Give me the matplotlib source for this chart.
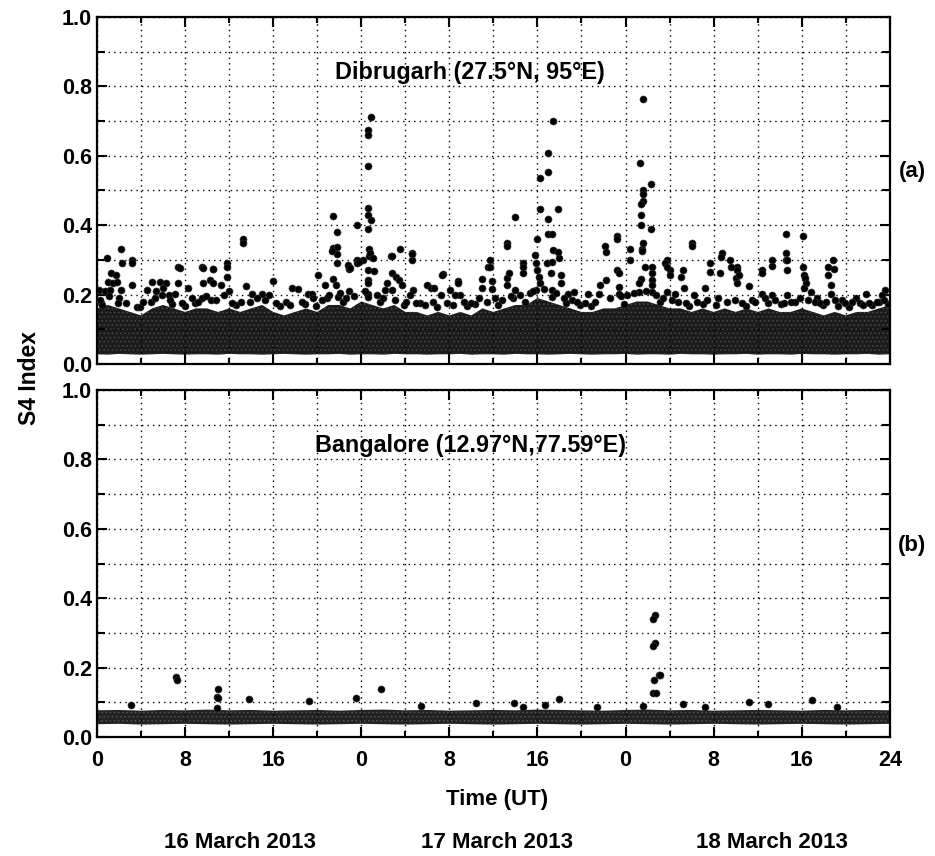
import matplotlib
matplotlib.use("Agg")
import matplotlib.pyplot as plt
from matplotlib.ticker import MultipleLocator, FixedLocator

plt.rcParams["font.family"] = ["Liberation Sans", "DejaVu Sans"]
plt.rcParams["font.weight"] = "bold"
plt.rcParams["hatch.linewidth"] = 0.6

# time axis in hours since 00 UT on 16 March 2013
XTICKS = [0, 8, 16, 24, 32, 40, 48, 56, 64, 72]
XTICK_LABELS = ["0", "8", "16", "0", "8", "16", "0", "8", "16", "24"]
DAYS = ["16 March 2013", "17 March 2013", "18 March 2013"]

# dense background cloud of Dibrugarh, hourly lower / upper edge
BAND_A_HOURS = [0, 1, 2, 3, 4, 5, 6, 7, 8, 9, 10, 11, 12, 13, 14, 15, 16, 17, 18, 19, 20,
                21, 22, 23, 24, 25, 26, 27, 28, 29, 30, 31, 32, 33, 34, 35, 36, 37, 38, 39,
                40, 41, 42, 43, 44, 45, 46, 47, 48, 49, 50, 51, 52, 53, 54, 55, 56, 57, 58,
                59, 60, 61, 62, 63, 64, 65, 66, 67, 68, 69, 70, 71, 72]
band_a_low = [0.028, 0.027, 0.029, 0.028, 0.027, 0.028, 0.029, 0.028, 0.027, 0.028,
              0.028, 0.027, 0.029, 0.028, 0.028, 0.027, 0.028, 0.029, 0.028, 0.027,
              0.028, 0.028, 0.029, 0.027, 0.028, 0.028, 0.027, 0.029, 0.028, 0.028,
              0.027, 0.028, 0.028, 0.029, 0.027, 0.028, 0.028, 0.027, 0.029, 0.028,
              0.028, 0.027, 0.028, 0.029, 0.028, 0.027, 0.028, 0.028, 0.029, 0.027,
              0.028, 0.028, 0.027, 0.029, 0.028, 0.028, 0.027, 0.028, 0.028, 0.029,
              0.027, 0.028, 0.028, 0.027, 0.029, 0.028, 0.028, 0.027, 0.028, 0.028,
              0.029, 0.027, 0.028]
band_a_high = [0.16, 0.17, 0.16, 0.15, 0.14, 0.16, 0.17, 0.16, 0.15, 0.16, 0.16, 0.15,
               0.16, 0.15, 0.16, 0.17, 0.15, 0.14, 0.15, 0.16, 0.15, 0.17, 0.17, 0.16,
               0.18, 0.17, 0.16, 0.17, 0.15, 0.15, 0.14, 0.15, 0.14, 0.15, 0.14, 0.16,
               0.15, 0.16, 0.17, 0.17, 0.19, 0.18, 0.17, 0.16, 0.15, 0.15, 0.16, 0.16,
               0.17, 0.18, 0.18, 0.17, 0.16, 0.16, 0.15, 0.16, 0.15, 0.16, 0.15, 0.16,
               0.15, 0.16, 0.15, 0.15, 0.16, 0.15, 0.14, 0.15, 0.14, 0.15, 0.15, 0.16, 0.17]

# flat background cloud of Bangalore, every 2 h
BAND_B_HOURS = [0, 2, 4, 6, 8, 10, 12, 14, 16, 18, 20, 22, 24, 26, 28, 30, 32, 34, 36,
                38, 40, 42, 44, 46, 48, 50, 52, 54, 56, 58, 60, 62, 64, 66, 68, 70, 72]
band_b_low = [0.037, 0.038, 0.036, 0.037, 0.038, 0.037, 0.036, 0.037, 0.038, 0.037,
              0.036, 0.037, 0.038, 0.037, 0.036, 0.037, 0.038, 0.037, 0.036, 0.037,
              0.038, 0.037, 0.036, 0.037, 0.038, 0.037, 0.036, 0.037, 0.038, 0.037,
              0.036, 0.037, 0.038, 0.037, 0.036, 0.037, 0.038]
band_b_high = [0.077, 0.078, 0.076, 0.078, 0.077, 0.079, 0.077, 0.078, 0.076, 0.077,
               0.078, 0.076, 0.078, 0.079, 0.077, 0.078, 0.076, 0.077, 0.078, 0.077,
               0.079, 0.078, 0.077, 0.076, 0.078, 0.079, 0.077, 0.078, 0.076, 0.077,
               0.078, 0.077, 0.076, 0.078, 0.077, 0.078, 0.077]

# Dibrugarh: individual points standing above the dense cloud
dib_hours = [24.9, 24.6, 24.6, 24.6, 24.6, 24.6, 24.9, 24.6, 21.4, 21.8, 23.6, 13.3, 13.3,
             2.2, 0.9, 2.3, 3.2, 3.2, 7.4, 9.5, 10.5, 11.8, 11.8, 21.4, 21.8, 21.8, 21.8,
             22.9, 22.9, 23.6, 23.6, 24.7, 24.7, 24.2, 27.5, 28.6, 28.6, 26.7, 31.4, 35.5,
             49.6, 41.4, 41.0, 41.0, 40.2, 40.2, 41.9, 41.0, 38.0, 49.3, 50.3, 49.6, 49.6,
             49.6, 49.4, 49.4, 49.4, 50.3, 47.2, 47.2, 54.0, 54.0, 62.6, 64.1, 37.2, 37.2,
             40.0, 41.0, 41.3, 48.4, 49.5, 49.6, 56.8, 57.5, 35.7, 62.6, 62.6, 61.3, 60.4,
             66.8, 66.4, 64.1, 51.8, 52.0, 53.2, 55.7, 58.1, 58.1, 46.1, 38.7, 38.7,
             # mid level points
             1.3, 1.7, 1.0, 1.5, 1.8, 0.2, 0.7, 1.2, 2.2, 3.2, 0.4, 2.0, 4.5, 5.0, 5.7,
             6.3, 5.4, 6.0, 6.5, 7.1, 7.4, 7.5, 8.3, 9.6, 10.5, 9.6, 10.3, 10.5, 11.3,
             11.8, 12.0, 9.5, 10.4, 13.5, 14.1, 15.0, 15.6, 16.0, 17.7, 18.3, 19.2, 19.5,
             20.1, 20.7, 21.4, 21.7, 21.3, 22.8, 23.0, 23.8, 20.9, 21.9, 22.9,
             24.8, 25.1, 24.6, 25.2, 24.6, 24.6, 24.6, 24.6, 26.8, 26.8, 27.2, 27.4, 26.3,
             26.2, 26.8, 27.7, 28.6, 28.7, 28.4, 30.0, 30.3, 30.6, 31.3, 31.2, 32.1, 32.8,
             32.8, 33.0, 32.5, 35.0, 35.0, 35.9, 35.9, 35.7, 37.2, 37.2, 37.4, 38.0, 37.8,
             38.7, 39.8, 39.9, 40.0, 40.1, 40.2, 39.9, 40.9, 41.3, 41.2, 42.1, 42.1, 41.4,
             41.9, 42.0, 41.3, 41.3, 42.8, 43.3, 46.2, 45.7, 46.2, 47.2, 47.4, 47.4, 47.4,
             44.6, 45.6,
             48.4, 49.5, 49.8, 50.4, 50.4, 50.4, 50.4, 50.4, 49.4, 49.2, 49.2, 51.6, 51.8,
             52.0, 53.0, 53.3, 51.8, 52.5, 54.2, 55.2, 55.7, 56.6, 56.7, 57.6, 58.0, 58.3,
             58.1, 59.2, 60.4, 61.3, 62.7, 62.7, 60.4, 61.3, 62.7, 59.5, 64.2, 64.3, 64.4,
             64.2, 64.8, 65.4, 66.4, 66.9, 66.7, 66.7, 67.7, 69.8, 68.9, 71.6, 71.3,
             # points along the top of the cloud
             0.5, 1.9, 3.6, 4.9, 6.8, 8.0, 8.9, 12.6, 13.9, 16.6, 17.2, 18.9, 19.9,
             22.3, 25.7, 27.9, 29.3, 30.9, 33.6, 34.3, 36.4, 38.9, 42.6, 43.9, 44.9,
             47.9, 51.1, 53.8, 55.0, 56.2, 58.9, 60.9, 62.1, 63.4, 65.9, 67.3, 68.3,
             69.3, 70.4, 71.0, 71.8,
             0.3, 1.1, 2.6, 3.9, 4.2, 5.3, 5.9, 6.6, 7.7, 8.6,
             9.2, 9.9, 10.8, 11.5, 12.3, 13.1, 14.5, 15.3, 16.3, 17.5,
             18.6, 19.6, 20.4, 21.1, 22.1, 22.6, 23.3, 24.3, 25.4, 26.0,
             27.1, 28.1, 29.0, 29.8, 30.5, 31.8, 32.3, 33.3, 34.0, 34.7,
             35.4, 36.1, 36.8, 37.6, 38.4, 39.3, 39.6, 40.6, 41.7, 42.4,
             43.1, 43.6, 44.3, 45.2, 46.6, 47.6, 48.1, 48.8, 49.9, 50.8,
             51.4, 52.2, 52.8, 53.5, 54.5, 55.4, 56.4, 57.2, 57.9, 58.6,
             59.8, 60.7, 61.6, 62.4, 63.0, 63.8, 64.6, 65.2, 65.7, 66.2,
             67.0, 67.9, 68.6, 69.6, 70.1, 70.8, 71.5]
dib_s4 = [0.712, 0.674, 0.66, 0.57, 0.45, 0.43, 0.415, 0.39, 0.426, 0.38, 0.40, 0.36, 0.35,
          0.33, 0.305, 0.29, 0.30, 0.29, 0.28, 0.28, 0.275, 0.29, 0.28, 0.334, 0.337, 0.316,
          0.29, 0.28, 0.275, 0.30, 0.29, 0.33, 0.31, 0.30, 0.33, 0.32, 0.30, 0.31, 0.26, 0.28,
          0.764, 0.70, 0.608, 0.553, 0.537, 0.446, 0.446, 0.418, 0.424, 0.58, 0.52, 0.50, 0.49,
          0.47, 0.46, 0.43, 0.40, 0.39, 0.37, 0.36, 0.348, 0.34, 0.375, 0.37, 0.35, 0.34,
          0.36, 0.375, 0.375, 0.33, 0.33, 0.35, 0.32, 0.30, 0.30, 0.32, 0.30, 0.30, 0.27,
          0.30, 0.28, 0.28, 0.30, 0.27, 0.27, 0.29, 0.28, 0.27, 0.34, 0.29, 0.28,
          0.261, 0.256, 0.237, 0.232, 0.237, 0.213, 0.209, 0.213, 0.213, 0.228, 0.175, 0.19,
          0.213, 0.237, 0.237, 0.232, 0.209, 0.218, 0.199, 0.203, 0.232, 0.276, 0.218, 0.276,
          0.273, 0.234, 0.242, 0.232, 0.228, 0.251, 0.209, 0.19, 0.184, 0.225, 0.203, 0.203,
          0.199, 0.24, 0.22, 0.215, 0.203, 0.203, 0.256, 0.229, 0.244, 0.229, 0.326, 0.285,
          0.276, 0.295, 0.19, 0.194, 0.209,
          0.319, 0.305, 0.271, 0.269, 0.242, 0.232, 0.203, 0.194, 0.31, 0.261, 0.251, 0.242,
          0.232, 0.213, 0.213, 0.228, 0.316, 0.213, 0.199, 0.229, 0.218, 0.218, 0.256, 0.199,
          0.213, 0.24, 0.232, 0.199, 0.199, 0.244, 0.218, 0.24, 0.215, 0.28, 0.247, 0.228,
          0.261, 0.213, 0.19, 0.261, 0.314, 0.29, 0.271, 0.251, 0.232, 0.213, 0.29, 0.295,
          0.261, 0.256, 0.232, 0.327, 0.324, 0.304, 0.213, 0.194, 0.203, 0.208, 0.324, 0.228,
          0.242, 0.271, 0.261, 0.223, 0.203, 0.203, 0.203,
          0.30, 0.326, 0.28, 0.28, 0.261, 0.242, 0.228, 0.208, 0.244, 0.232, 0.208, 0.29,
          0.28, 0.256, 0.251, 0.22, 0.208, 0.203, 0.199, 0.218, 0.266, 0.261, 0.307, 0.28,
          0.247, 0.256, 0.232, 0.225, 0.261, 0.282, 0.30, 0.271, 0.203, 0.199, 0.199, 0.184,
          0.256, 0.247, 0.232, 0.218, 0.208, 0.19, 0.256, 0.275, 0.228, 0.203, 0.184, 0.203,
          0.19, 0.213, 0.199,
          0.17, 0.175, 0.165, 0.18, 0.172, 0.168, 0.176, 0.17, 0.178, 0.166, 0.18, 0.172,
          0.168, 0.178, 0.18, 0.17, 0.176, 0.165, 0.168, 0.174, 0.17, 0.18, 0.176, 0.17,
          0.168, 0.172, 0.178, 0.166, 0.174, 0.17, 0.168, 0.176, 0.172, 0.18, 0.17, 0.168,
          0.165, 0.176, 0.17, 0.18, 0.172,
          0.185, 0.195, 0.175, 0.165, 0.18, 0.19, 0.2, 0.185, 0.175, 0.19,
          0.18, 0.195, 0.185, 0.2, 0.175, 0.18, 0.19, 0.185, 0.175, 0.17,
          0.18, 0.19, 0.185, 0.2, 0.205, 0.19, 0.195, 0.21, 0.2, 0.19,
          0.185, 0.18, 0.175, 0.17, 0.18, 0.175, 0.17, 0.18, 0.175, 0.19,
          0.18, 0.19, 0.185, 0.195, 0.2, 0.205, 0.21, 0.215, 0.205, 0.19,
          0.185, 0.18, 0.175, 0.18, 0.19, 0.195, 0.2, 0.205, 0.21, 0.2,
          0.19, 0.185, 0.18, 0.175, 0.18, 0.185, 0.19, 0.18, 0.185, 0.175,
          0.18, 0.19, 0.185, 0.175, 0.18, 0.19, 0.185, 0.18, 0.175, 0.18,
          0.185, 0.175, 0.18, 0.17, 0.175, 0.18, 0.185]

# Bangalore: individual points above the flat cloud
ban_hours = [3.1, 7.2, 7.3, 11.0, 10.9, 11.0, 10.9, 13.8, 19.3, 23.5, 25.8, 29.4, 34.4,
             37.9, 38.7, 40.7, 42.0, 45.4, 49.6, 50.7, 50.5, 50.7, 50.5, 51.0, 50.6, 51.1,
             50.5, 50.8, 53.2, 55.2, 59.2, 60.9, 64.9, 67.2]
ban_s4 = [0.092, 0.173, 0.165, 0.138, 0.116, 0.112, 0.085, 0.109, 0.104, 0.111, 0.138,
          0.089, 0.097, 0.099, 0.086, 0.092, 0.109, 0.086, 0.089, 0.353, 0.339, 0.27, 0.262,
          0.179, 0.165, 0.18, 0.126, 0.126, 0.095, 0.087, 0.10, 0.094, 0.107, 0.087]

fig = plt.figure(figsize=(9.35, 8.56), dpi=100)
ax_a = fig.add_axes([0.1037, 0.5748, 0.848, 0.4054])
ax_b = fig.add_axes([0.1037, 0.1390, 0.848, 0.4054])

FS = 15.5


def style(ax):
    ax.set_xlim(0, 72)
    ax.set_ylim(0, 1.0)
    ax.xaxis.set_major_locator(FixedLocator(XTICKS))
    ax.xaxis.set_minor_locator(MultipleLocator(4))
    ax.yaxis.set_major_locator(MultipleLocator(0.2))
    ax.yaxis.set_minor_locator(MultipleLocator(0.1))
    ax.grid(True, which="both", color="black", linestyle=(0, (1, 3)), linewidth=1.0)
    ax.set_axisbelow(False)
    ax.tick_params(which="both", direction="in", top=True, right=True, width=1.5)
    ax.tick_params(which="major", length=7)
    ax.tick_params(which="minor", length=6)
    ax.tick_params(axis="x", which="minor", length=4)
    for s in ax.spines.values():
        s.set_linewidth(1.6)
    ax.set_yticks([0.0, 0.2, 0.4, 0.6, 0.8, 1.0])
    ax.set_yticklabels(["0.0", "0.2", "0.4", "0.6", "0.8", "1.0"], fontweight="bold",
                       fontsize=FS)


for ax in (ax_a, ax_b):
    style(ax)

ax_a.fill_between(BAND_A_HOURS, band_a_low, band_a_high, facecolor="#1b1b1b",
                  edgecolor="#4a4a4a", hatch="....", lw=0, zorder=2)
ax_a.scatter(dib_hours, dib_s4, s=26, c="black", edgecolors="#3a3a3a", linewidths=0.4,
             zorder=3)
ax_b.fill_between(BAND_B_HOURS, band_b_low, band_b_high, facecolor="#222222",
                  edgecolor="#555555", hatch="....", lw=0, zorder=2)
ax_b.scatter(ban_hours, ban_s4, s=26, c="black", edgecolors="#3a3a3a", linewidths=0.4,
             zorder=3)

ax_a.set_xticklabels([])
ax_b.set_xticks(XTICKS)
ax_b.set_xticklabels(XTICK_LABELS, fontweight="bold", fontsize=FS)
ax_b.tick_params(axis="x", which="major", pad=9)

ax_a.text(33.9, 0.84, "Dibrugarh (27.5°N, 95°E)", ha="center", va="center",
          fontsize=16.8, fontweight="bold")
ax_b.text(33.9, 0.84, "Bangalore (12.97°N,77.59°E)", ha="center", va="center",
          fontsize=16.8, fontweight="bold")
fig.text(912 / 935, 1 - 172 / 856, "(a)", ha="center", va="center", fontsize=16,
         fontweight="bold")
fig.text(912 / 935, 1 - 546 / 856, "(b)", ha="center", va="center", fontsize=16,
         fontweight="bold")
fig.text(30 / 935, 1 - 378 / 856, "S4 Index", rotation=90, ha="center", va="center",
         fontsize=16.5, fontweight="bold")
fig.text(497 / 935, 1 - 800 / 856, "Time (UT)", ha="center", va="center", fontsize=16,
         fontweight="bold")
for xpos, day in zip([240, 497, 772], DAYS):
    fig.text(xpos / 935, 1 - 843 / 856, day, ha="center", va="center", fontsize=16,
             fontweight="bold")

fig.savefig("out.png", dpi=100)
